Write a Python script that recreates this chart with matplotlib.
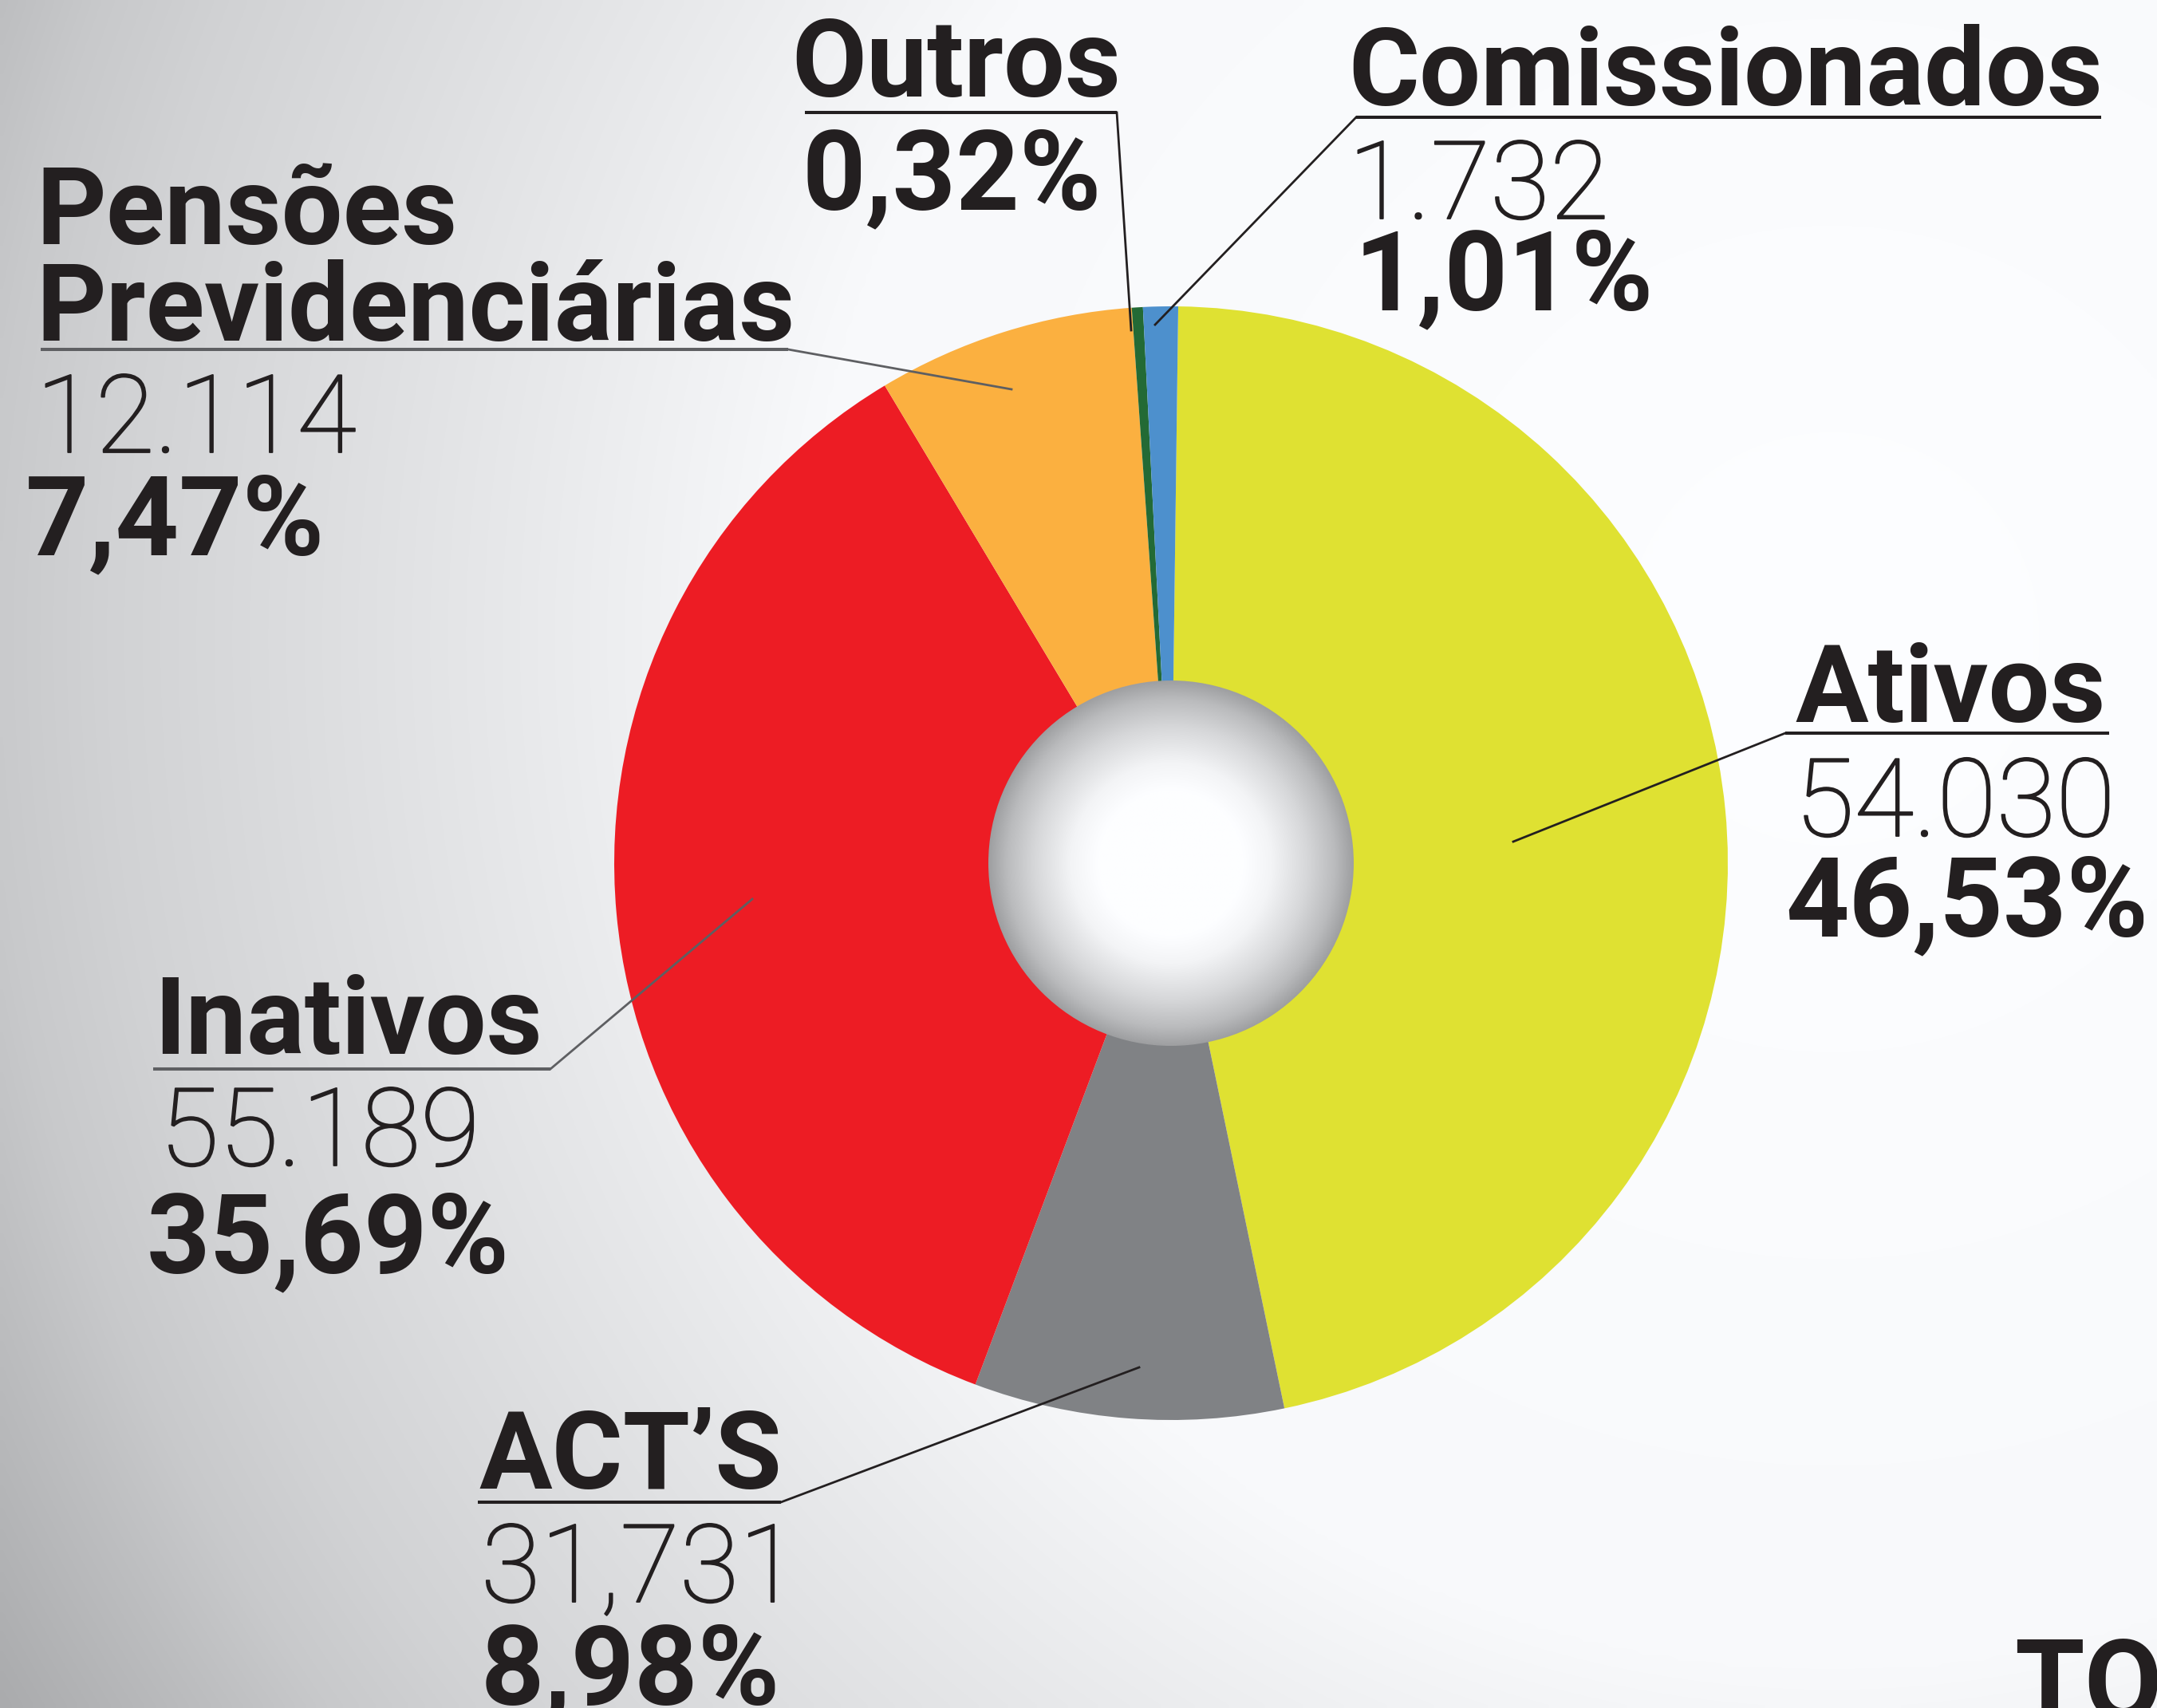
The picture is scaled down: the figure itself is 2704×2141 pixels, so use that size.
import numpy as np
import matplotlib
matplotlib.use("Agg")
import matplotlib.pyplot as plt
import matplotlib.patheffects as pe
from matplotlib.patches import Circle

# Dados do gráfico (sentido horário a partir do topo)
categorias = ["Ativos", "ACT’S", "Inativos", "Pensões\nPrevidenciárias", "Outros", "Comissionados"]
percentuais = [46.53, 8.98, 35.69, 7.47, 0.32, 1.01]
quantidades = ["54.030", "31,731", "55.189", "12.114", "", "1.732"]
cores = ["#DFE132", "#808285", "#ED1C24", "#FBB040", "#236A35", "#4D90CD"]

W, H = 2704, 2141
TXT = "#231F20"

# Layout de cada rótulo em pixels (y para baixo):
# x título, base título, y sublinhado, x0/x1 sublinhado, ponta da linha, x/base qtd, x/base %, cor, lado da linha
layout = {
    "Ativos": dict(x=2250, base=905, uy=919, ux=(2238, 2644), tip=(1897, 1055),
                   qx=2250, qb=1048, px=2238, pb=1173, cor=TXT, lado=0),
    "ACT’S": dict(x=600, base=1866, uy=1883, ux=(599, 979), tip=(1428, 1714),
                  qx=603, qb=2008, px=603, pb=2136, cor=TXT, lado=1),
    "Inativos": dict(x=193, base=1321, uy=1340, ux=(192, 690), tip=(943, 1127),
                     qx=200, qb=1461, px=184, pb=1595, cor="#5E5F62", lado=1),
    "Pensões\nPrevidenciárias": dict(x=45, base=306, uy=438, ux=(51, 988), tip=(1268, 488),
                                     qx=45, qb=567, px=32, pb=695, cor="#5E5F62", lado=1),
    "Outros": dict(x=992, base=121, uy=141, ux=(1009, 1400), tip=(1418, 414),
                   qx=0, qb=0, px=1005, pb=262, cor=TXT, lado=1),
    "Comissionados": dict(x=1690, base=132, uy=147, ux=(1700, 2634), tip=(1448, 407),
                          qx=1690, qb=274, px=1698, pb=388, cor=TXT, lado=0),
}

CENTRO = (1468, 1082)
RAIO = 698
RAIO_INT = 229
FS = 98


def fy(y):
    return H - y


fig = plt.figure(figsize=(W / 100, H / 100), dpi=100)
ax = fig.add_axes([0, 0, 1, 1])

# Fundo em degradê (cinza à esquerda, branco à direita)
gx, gy = np.meshgrid(np.linspace(0, W, 340), np.linspace(0, H, 270))
d = np.hypot(gx - 2300, gy - 800)
nivel = np.interp(d, [0, 1300, 1650, 2170, 2320, 2440, 2700], [255, 250, 234, 211, 202, 191, 169])
fundo = np.dstack([nivel - 2, nivel - 1, nivel + 1]) / 255.0
ax.imshow(np.clip(fundo, 0, 1), extent=(0, W, 0, H), origin="upper", interpolation="bilinear", zorder=0)

# Pizza
ax.pie(percentuais, colors=cores, startangle=89.26, counterclock=False,
       center=(CENTRO[0], fy(CENTRO[1])), radius=RAIO, wedgeprops=dict(linewidth=0, zorder=1))

# Esfera central
sx, sy = np.meshgrid(np.linspace(-1, 1, 400), np.linspace(-1, 1, 400))
t = np.hypot(sx, sy)
g = np.interp(t, [0, 0.4, 0.55, 0.75, 0.9, 1.0], [255, 255, 245, 216, 188, 160])
esfera = np.dstack([g - 2, g - 1, g + 1]) / 255.0
img = ax.imshow(np.clip(esfera, 0, 1), extent=(CENTRO[0] - RAIO_INT, CENTRO[0] + RAIO_INT,
                                               fy(CENTRO[1]) - RAIO_INT, fy(CENTRO[1]) + RAIO_INT),
                interpolation="bilinear", zorder=3)
circ = Circle((CENTRO[0], fy(CENTRO[1])), RAIO_INT, transform=ax.transData, facecolor="none", edgecolor="none")
ax.add_patch(circ)
img.set_clip_path(circ)

fino = [pe.withStroke(linewidth=1.3, foreground=TXT)]

# Rótulos
for cat, pct, qtd in zip(categorias, percentuais, quantidades):
    L = layout[cat]
    linhas = cat.split("\n")
    for i, linha in enumerate(reversed(linhas)):
        ax.text(L["x"], fy(L["base"] + 121 * (len(linhas) - 1) - 121 * i), linha, family="Roboto",
                weight="bold", fontsize=FS, color=TXT, va="baseline", ha="left", zorder=5)
    ax.plot(L["ux"], [fy(L["uy"]), fy(L["uy"])], color=L["cor"], lw=2.9, solid_capstyle="butt", zorder=5)
    x0 = L["ux"][L["lado"]]
    ax.plot([x0, L["tip"][0]], [fy(L["uy"]), fy(L["tip"][1])], color=L["cor"], lw=2.0, zorder=5)
    if qtd:
        ax.text(L["qx"], fy(L["qb"]), qtd, family="Roboto", weight=100, fontsize=FS,
                color=TXT, va="baseline", ha="left", zorder=5, path_effects=fino)
    ax.text(L["px"], fy(L["pb"]), f"{pct:.2f}%".replace(".", ","), family="Roboto", weight="bold",
            fontsize=FS + 2, color=TXT, va="baseline", ha="left", zorder=5)

# Título cortado no canto
ax.text(2525, fy(2157), "TOTAL", family="Roboto", weight="bold", fontsize=FS + 4, color=TXT,
        va="baseline", ha="left", zorder=5)

ax.set_xlim(0, W)
ax.set_ylim(0, H)
ax.set_aspect("auto")
ax.axis("off")

fig.savefig("out.png", dpi=100)
